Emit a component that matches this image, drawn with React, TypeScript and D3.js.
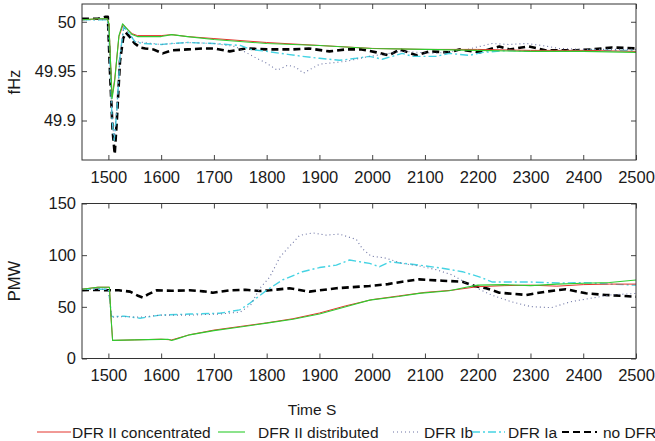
import * as d3 from "d3";
import { useEffect, useRef } from "react";

// ---- data: [time s, value] ----
const xTicks = [1500, 1600, 1700, 1800, 1900, 2000, 2100, 2200, 2300, 2400, 2500];
const fTicks = [49.9, 49.95, 50];
const pTicks = [0, 50, 100, 150];

const freqConcentrated: [number, number][] = [
  [1450, 50.002], [1480, 50.003], [1498, 50.003], [1501, 49.998], [1507, 49.924], [1512, 49.942],
  [1520, 49.985], [1528, 49.997], [1535, 49.993], [1545, 49.988], [1555, 49.986], [1600, 49.986],
  [1620, 49.987], [1650, 49.985], [1700, 49.983], [1800, 49.979], [1900, 49.976], [2000, 49.973],
  [2100, 49.972], [2200, 49.972], [2300, 49.971], [2400, 49.971], [2500, 49.970],
];
const freqDistributed: [number, number][] = [
  [1450, 50.002], [1480, 50.003], [1498, 50.003], [1501, 49.998], [1507, 49.922], [1512, 49.94],
  [1520, 49.986], [1527, 49.998], [1535, 49.993], [1545, 49.987], [1555, 49.985], [1600, 49.985],
  [1620, 49.987], [1650, 49.985], [1700, 49.982], [1800, 49.978], [1900, 49.976], [2000, 49.973],
  [2100, 49.972], [2200, 49.971], [2300, 49.970], [2400, 49.970], [2500, 49.969],
];
const freqIb: [number, number][] = [
  [1450, 50.002], [1498, 50.002], [1501, 49.99], [1507, 49.9], [1511, 49.882], [1516, 49.91],
  [1522, 49.965], [1529, 49.994], [1537, 49.99], [1550, 49.98], [1600, 49.977], [1650, 49.979],
  [1700, 49.978], [1740, 49.975], [1774, 49.965], [1800, 49.958], [1820, 49.951], [1840, 49.956],
  [1855, 49.954], [1870, 49.948], [1900, 49.957], [1951, 49.96], [1995, 49.965], [2057, 49.97],
  [2121, 49.968], [2180, 49.972], [2227, 49.978], [2260, 49.977], [2292, 49.978], [2322, 49.976],
  [2354, 49.973], [2400, 49.972], [2500, 49.972],
];
const freqIa: [number, number][] = [
  [1450, 50.002], [1498, 50.002], [1501, 49.99], [1507, 49.9], [1511, 49.88], [1516, 49.91],
  [1522, 49.965], [1529, 49.995], [1537, 49.99], [1550, 49.98], [1565, 49.978], [1600, 49.977],
  [1620, 49.978], [1650, 49.979], [1700, 49.978], [1750, 49.976], [1770, 49.972], [1800, 49.97],
  [1840, 49.967], [1868, 49.965], [1900, 49.963], [1938, 49.961], [1970, 49.963], [1995, 49.965],
  [2019, 49.962], [2057, 49.968], [2076, 49.965], [2121, 49.965], [2146, 49.968], [2184, 49.966],
  [2210, 49.969], [2260, 49.971], [2300, 49.97], [2400, 49.971], [2500, 49.971],
];
const freqNoDfr: [number, number][] = [
  [1450, 50.003], [1480, 50.003], [1495, 50.005], [1499, 50.005], [1503, 49.95], [1508, 49.89],
  [1512, 49.866], [1516, 49.9], [1522, 49.96], [1528, 49.983], [1533, 49.989], [1540, 49.985],
  [1550, 49.978], [1560, 49.974], [1570, 49.973], [1585, 49.972], [1603, 49.968], [1620, 49.971],
  [1650, 49.972], [1680, 49.973], [1700, 49.973], [1730, 49.97], [1760, 49.973], [1800, 49.972],
  [1850, 49.972], [1880, 49.973], [1919, 49.97], [1950, 49.972], [1980, 49.972], [2008, 49.969],
  [2032, 49.966], [2052, 49.972], [2084, 49.966], [2108, 49.97], [2146, 49.969], [2165, 49.972],
  [2203, 49.969], [2241, 49.975], [2260, 49.972], [2297, 49.975], [2330, 49.971], [2386, 49.971],
  [2416, 49.972], [2455, 49.974], [2500, 49.973],
];

const powConcentrated: [number, number][] = [
  [1450, 67], [1480, 69], [1502, 69], [1505, 40], [1508, 17.5], [1550, 18], [1600, 18.7], [1620, 18],
  [1654, 23], [1700, 27.5], [1750, 31], [1800, 34.5], [1850, 38.5], [1900, 44], [1950, 51],
  [2000, 57], [2050, 60.5], [2100, 64], [2150, 66], [2200, 69.5], [2250, 70.5], [2300, 71],
  [2350, 70], [2400, 71.5], [2450, 72], [2500, 72],
];
const powDistributed: [number, number][] = [
  [1450, 67], [1480, 69], [1502, 69], [1505, 40], [1508, 17.5], [1550, 18], [1600, 18.5], [1613, 18.7],
  [1620, 17.5], [1630, 19], [1654, 22.9], [1700, 27], [1750, 30.5], [1800, 34.2], [1850, 38],
  [1900, 43], [1950, 50], [1995, 56.5], [2050, 60], [2089, 63], [2146, 65.6], [2178, 69],
  [2200, 71], [2250, 71.5], [2300, 70.5], [2350, 72], [2400, 72.8], [2450, 73.5], [2500, 76],
];
const powIb: [number, number][] = [
  [1450, 67], [1500, 67], [1503, 55], [1506, 40], [1530, 40.5], [1560, 40], [1600, 42], [1654, 42],
  [1711, 43], [1750, 45], [1770, 52], [1787, 68], [1806, 79], [1825, 98], [1837, 105], [1862, 119],
  [1887, 121.6], [1913, 119.4], [1938, 120.4], [1970, 115.2], [1981, 106.5], [1998, 99],
  [2023, 97.5], [2057, 92], [2089, 89.5], [2121, 86], [2152, 80.8], [2178, 73], [2199, 68],
  [2226, 61.5], [2263, 55], [2301, 50.2], [2339, 49.2], [2377, 55], [2414, 58.3], [2452, 61.5],
  [2500, 63],
];
const powIa: [number, number][] = [
  [1450, 67], [1500, 67], [1503, 55], [1506, 40.5], [1530, 41], [1560, 39], [1598, 42], [1654, 43],
  [1711, 43.8], [1749, 47], [1768, 53.5], [1800, 66], [1830, 76], [1868, 84], [1900, 88],
  [1932, 90.4], [1957, 95.3], [1995, 92], [2014, 88.8], [2033, 93.6], [2089, 90.4], [2133, 87.3],
  [2171, 84], [2203, 79], [2228, 74], [2300, 74], [2354, 73], [2400, 73.5], [2450, 72], [2500, 71],
];
const powNoDfr: [number, number][] = [
  [1450, 66], [1480, 66.5], [1500, 66], [1520, 66], [1541, 64.7], [1555, 61], [1565, 59], [1575, 62],
  [1592, 66], [1620, 65.5], [1654, 66], [1680, 65], [1698, 63.7], [1730, 66], [1760, 66.5],
  [1787, 65.3], [1806, 66], [1843, 68], [1881, 64.7], [1932, 68], [1995, 70.2], [2030, 72],
  [2057, 74.3], [2089, 76.6], [2133, 75.3], [2171, 74.3], [2195, 70], [2216, 68], [2241, 63.7],
  [2292, 61.5], [2329, 64.7], [2367, 67], [2405, 63.1], [2443, 61.5], [2500, 59.8],
];

const seriesNames = ["DFR II concentrated", "DFR II distributed", "DFR Ib", "DFR Ia", "no DFR"];

const styles = [
  { color: "#e3342c", width: 1, dash: null },
  { color: "#2fcc2f", width: 1.1, dash: null },
  { color: "#6c73a3", width: 1.1, dash: "1,3" },
  { color: "#45d3e3", width: 1.4, dash: "8,3,2,3" },
  { color: "#000000", width: 2.6, dash: "7,4" },
];

const FONT = "'Liberation Sans', Arial, sans-serif";

export default function App() {
  const ref = useRef<SVGSVGElement>(null);

  useEffect(() => {
    const svg = d3.select(ref.current);
    svg.selectAll("*").remove();

    const left = 82, right = 636;
    const x = d3.scaleLinear().domain([1450, 2500]).range([left, right]);

    const drawPanel = (top: number, bottom: number, domain: [number, number], ticks: number[],
      fmt: (v: number) => string, data: [number, number][][], label: string) => {
      const y = d3.scaleLinear().domain(domain).range([bottom, top]);
      const g = svg.append("g");

      // data lines, drawn so the red/green ones sit on top
      const line = d3.line<[number, number]>().x(d => x(d[0])).y(d => y(d[1]));
      const order = [4, 3, 2, 0, 1];
      order.forEach(i => {
        const s = styles[i];
        g.append("path")
          .datum(data[i])
          .attr("d", line)
          .attr("fill", "none")
          .attr("stroke", s.color)
          .attr("stroke-width", s.width)
          .attr("stroke-dasharray", s.dash)
          .attr("stroke-linejoin", "round");
      });

      const bx = g.append("g").attr("transform", `translate(0,${bottom})`)
        .call(d3.axisBottom(x).tickValues(xTicks).tickSizeInner(-5).tickSizeOuter(0).tickPadding(11).tickFormat(d3.format("d")));
      const tx = g.append("g").attr("transform", `translate(0,${top})`)
        .call(d3.axisTop(x).tickValues(xTicks).tickSizeInner(-5).tickSizeOuter(0).tickFormat(() => ""));
      const ly = g.append("g").attr("transform", `translate(${left},0)`)
        .call(d3.axisLeft(y).tickValues(ticks).tickSizeInner(-5).tickSizeOuter(0).tickPadding(6).tickFormat(fmt as any));
      const ry = g.append("g").attr("transform", `translate(${right},0)`)
        .call(d3.axisRight(y).tickValues(ticks).tickSizeInner(-5).tickSizeOuter(0).tickFormat(() => ""));

      [bx, tx, ly, ry].forEach(a => {
        a.select(".domain").remove();
        a.selectAll("line").attr("stroke", "#444");
        a.selectAll("text").attr("fill", "#1a1a1a").style("font-family", FONT).style("font-size", "16.5px");
      });

      g.append("rect")
        .attr("x", left).attr("y", top)
        .attr("width", right - left).attr("height", bottom - top)
        .attr("fill", "none").attr("stroke", "#333").attr("stroke-width", 1);

      g.append("text")
        .attr("transform", `translate(20,${(top + bottom) / 2}) rotate(-90)`)
        .attr("text-anchor", "middle")
        .attr("fill", "#1a1a1a")
        .style("font-family", FONT).style("font-size", "16.5px")
        .text(label);
    };

    drawPanel(4, 160, [49.86, 50.018], fTicks, d => (d === 50 ? "50" : String(d)),
      [freqConcentrated, freqDistributed, freqIb, freqIa, freqNoDfr], "fHz");
    drawPanel(203.5, 358.5, [0, 150], pTicks, d => String(d),
      [powConcentrated, powDistributed, powIb, powIa, powNoDfr], "PMW");

    svg.append("text")
      .attr("x", 312).attr("y", 415)
      .attr("text-anchor", "middle")
      .attr("fill", "#1a1a1a")
      .style("font-family", FONT).style("font-size", "15.5px")
      .text("Time S");

    // legend
    const legendItems = [
      { x1: 37, x2: 71, tx: 72 },
      { x1: 218, x2: 245, tx: 258 },
      { x1: 393, x2: 421, tx: 424 },
      { x1: 472, x2: 505, tx: 508 },
      { x1: 562, x2: 597, tx: 603 },
    ];
    const lg = svg.append("g");
    legendItems.forEach((it, i) => {
      const s = styles[i];
      lg.append("line")
        .attr("x1", it.x1).attr("x2", it.x2).attr("y1", 432).attr("y2", 432)
        .attr("stroke", s.color)
        .attr("stroke-width", i === 4 ? 2 : s.width)
        .attr("stroke-dasharray", s.dash);
      lg.append("text")
        .attr("x", it.tx).attr("y", 438)
        .attr("fill", "#1a1a1a")
        .style("font-family", FONT).style("font-size", "15.5px")
        .text(seriesNames[i]);
    });
  }, []);

  return (
    <div style={{ position: "fixed", left: 0, top: 0, width: 655, height: 441, background: "#fff" }}>
      <svg ref={ref} width={655} height={441} style={{ display: "block" }} />
    </div>
  );
}
